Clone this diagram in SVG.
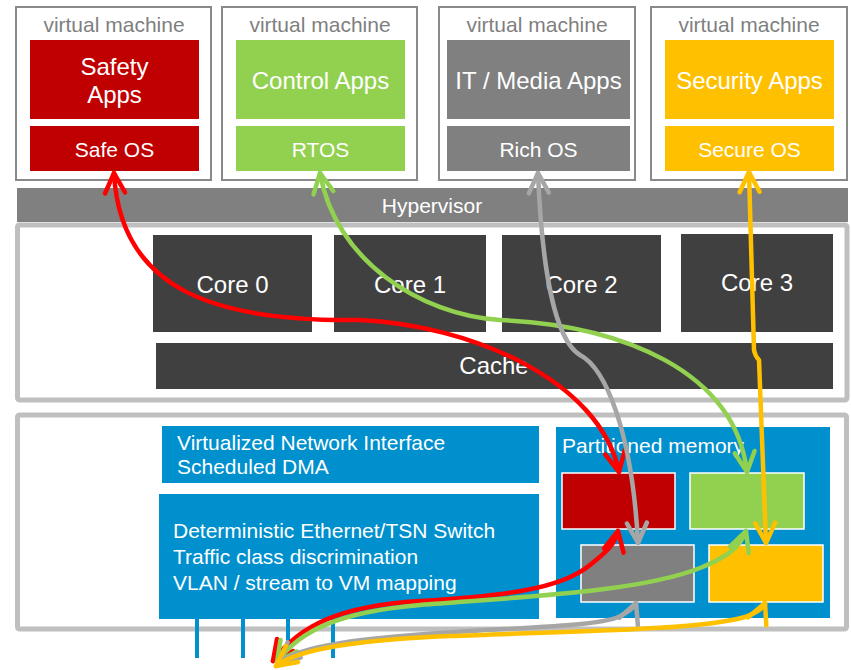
<svg xmlns="http://www.w3.org/2000/svg" width="851" height="670" viewBox="0 0 851 670">
<style>
  text { font-family: "Liberation Sans", Arial, sans-serif; }
  .vm { fill: #ffffff; stroke: #898989; stroke-width: 2; }
  .vmt { fill: #7f7f7f; font-size: 21px; text-anchor: middle; }
  .wt { fill: #ffffff; text-anchor: middle; }
  .big { font-size: 24px; }
  .os { font-size: 21px; }
  .red { fill: #C00000; }
  .grn { fill: #92D050; }
  .gry { fill: #808080; }
  .yel { fill: #FFC000; }
  .core { fill: #404040; }
  .frame { fill: #ffffff; stroke: #BFBFBF; stroke-width: 5; }
  .blue { fill: #0090CE; }
  .bt { fill: #ffffff; font-size: 21px; }
  .mem { stroke: #ffffff; stroke-width: 1.5; }
  .port { stroke: #0090CE; stroke-width: 4; }
  .c { fill: none; stroke-width: 4.5; stroke-linecap: round; stroke-linejoin: round; }
  .cr { stroke: #FF0000; marker-start: url(#ar); marker-end: url(#ar); }
  .cg { stroke: #92D050; marker-start: url(#ag); marker-end: url(#ag); }
  .cy { stroke: #A6A6A6; marker-start: url(#ay); marker-end: url(#ay); }
  .co { stroke: #FFC000; marker-start: url(#ao); marker-end: url(#ao); }
</style>
<defs>
  <marker id="ar" markerUnits="userSpaceOnUse" viewBox="-24 -14 28 28" markerWidth="28" markerHeight="28" refX="0" refY="0" orient="auto-start-reverse">
    <path d="M-20,-10 L0,0 L-20,10" fill="none" stroke="#FF0000" stroke-width="4.5" stroke-linecap="round" stroke-linejoin="round"/>
  </marker>
  <marker id="ag" markerUnits="userSpaceOnUse" viewBox="-24 -14 28 28" markerWidth="28" markerHeight="28" refX="0" refY="0" orient="auto-start-reverse">
    <path d="M-20,-10 L0,0 L-20,10" fill="none" stroke="#92D050" stroke-width="4.5" stroke-linecap="round" stroke-linejoin="round"/>
  </marker>
  <marker id="ay" markerUnits="userSpaceOnUse" viewBox="-24 -14 28 28" markerWidth="28" markerHeight="28" refX="0" refY="0" orient="auto-start-reverse">
    <path d="M-20,-10 L0,0 L-20,10" fill="none" stroke="#A6A6A6" stroke-width="4.5" stroke-linecap="round" stroke-linejoin="round"/>
  </marker>
  <marker id="ao" markerUnits="userSpaceOnUse" viewBox="-24 -14 28 28" markerWidth="28" markerHeight="28" refX="0" refY="0" orient="auto-start-reverse">
    <path d="M-20,-10 L0,0 L-20,10" fill="none" stroke="#FFC000" stroke-width="4.5" stroke-linecap="round" stroke-linejoin="round"/>
  </marker>
</defs>
<rect width="851" height="670" fill="#ffffff"/>

<!-- Virtual machines -->
<g id="vm-safety">
  <rect class="vm" x="16" y="7" width="195" height="173"/>
  <text class="vmt" x="114" y="32">virtual machine</text>
  <rect class="red" x="30" y="40" width="169" height="79"/>
  <text class="wt big" x="114.5" y="75">Safety</text>
  <text class="wt big" x="114.5" y="103">Apps</text>
  <rect class="red" x="30" y="126" width="169" height="45"/>
  <text class="wt os" x="114.5" y="157">Safe OS</text>
</g>
<g id="vm-control">
  <rect class="vm" x="222" y="7" width="195" height="173"/>
  <text class="vmt" x="320" y="32">virtual machine</text>
  <rect class="grn" x="236" y="40" width="169" height="79"/>
  <text class="wt big" x="320.5" y="89">Control Apps</text>
  <rect class="grn" x="236" y="126" width="169" height="45"/>
  <text class="wt os" x="320.5" y="157">RTOS</text>
</g>
<g id="vm-media">
  <rect class="vm" x="439" y="7" width="196" height="173"/>
  <text class="vmt" x="537" y="32">virtual machine</text>
  <rect class="gry" x="447" y="40" width="183" height="79"/>
  <text class="wt big" x="538.5" y="89">IT / Media Apps</text>
  <rect class="gry" x="447" y="126" width="183" height="45"/>
  <text class="wt os" x="538.5" y="157">Rich OS</text>
</g>
<g id="vm-security">
  <rect class="vm" x="651" y="7" width="196" height="173"/>
  <text class="vmt" x="749" y="32">virtual machine</text>
  <rect class="yel" x="665" y="40" width="169" height="79"/>
  <text class="wt big" x="749.5" y="89">Security Apps</text>
  <rect class="yel" x="665" y="126" width="169" height="45"/>
  <text class="wt os" x="749.5" y="157">Secure OS</text>
</g>

<!-- Hypervisor -->
<g id="hypervisor">
  <rect class="gry" x="17" y="188" width="831" height="34"/>
  <text class="wt" style="font-size:21px" x="432" y="213">Hypervisor</text>
</g>

<!-- CPU frame -->
<g id="cpu">
  <rect class="frame" x="17.5" y="225" width="829.5" height="175" rx="2"/>
</g>
<g id="core0">
  <rect class="core" x="153" y="235" width="159" height="97"/>
  <text class="wt big" x="232.5" y="293">Core 0</text>
</g>
<g id="core1">
  <rect class="core" x="334" y="235" width="152" height="97"/>
  <text class="wt big" x="410" y="293">Core 1</text>
</g>
<g id="core2">
  <rect class="core" x="502" y="235" width="159" height="97"/>
  <text class="wt big" x="581.5" y="293">Core 2</text>
</g>
<g id="core3">
  <rect class="core" x="681" y="234" width="152" height="98"/>
  <text class="wt big" x="757" y="291">Core 3</text>
</g>
<g id="cache">
  <rect class="core" x="156" y="343" width="677" height="46"/>
  <text class="wt big" x="494" y="374">Cache</text>
</g>

<!-- Network / memory frame -->
<g id="soc">
  <rect class="frame" x="17.5" y="415" width="829" height="214" rx="2"/>
</g>
<g id="vni">
  <rect class="blue" x="162" y="426" width="377" height="57"/>
  <text class="bt" x="177" y="450">Virtualized Network Interface</text>
  <text class="bt" x="177" y="474">Scheduled DMA</text>
</g>
<g id="tsn">
  <rect class="blue" x="159" y="494" width="380" height="125"/>
  <text class="bt" x="173" y="538">Deterministic Ethernet/TSN Switch</text>
  <text class="bt" x="173" y="564">Traffic class discrimination</text>
  <text class="bt" x="173" y="590">VLAN / stream to VM mapping</text>
</g>
<g id="ports">
  <line class="port" x1="197" y1="617" x2="197" y2="658"/>
  <line class="port" x1="243" y1="617" x2="243" y2="658"/>
  <line class="port" x1="288" y1="617" x2="288" y2="658"/>
  <line class="port" x1="333" y1="617" x2="333" y2="658"/>
</g>
<g id="memory">
  <rect class="blue" x="556" y="427" width="274" height="191"/>
  <text class="bt" x="562" y="453">Partitioned memory</text>
  <rect class="mem red" x="562" y="473" width="113" height="56"/>
  <rect class="mem grn" x="690" y="473" width="114" height="56"/>
  <rect class="mem gry" x="581" y="545" width="113" height="57"/>
  <rect class="mem yel" x="709" y="545" width="114" height="57"/>
</g>

<!-- Connectors -->
<g id="connectors">
  <path class="c cr" d="M114,173 C120,290 215,322 360,320 C470,325 600,380 619,472"/>
  <path class="c cg" d="M320,173 C335,260 420,315 500,320 C620,325 735,370 747,472"/>
  <path class="c cy" d="M538,173 C542,270 555,340 580,355 C605,368 632,430 638,543"/>
  <path class="c co" d="M749,172 L754,350 Q755,356 759,360 L766,543"/>
  <path class="c cr" d="M273,661 C300,625 340,606 420,601 C500,596 560,590 590,565 C605,553 615,545 618,531"/>
  <path class="c cg" d="M277,662 C300,630 340,612 420,605 C520,597 640,592 700,568 C725,558 740,548 746,531"/>
  <path class="c cy" d="M279,663 C300,645 360,638 470,631 C560,626 610,624 622,615 C630,611 634,608 636,603"/>
  <path class="c co" d="M276,666 C300,648 360,640 450,636 C580,631 700,630 745,617 C755,613 762,610 765,603"/>
</g>
</svg>
